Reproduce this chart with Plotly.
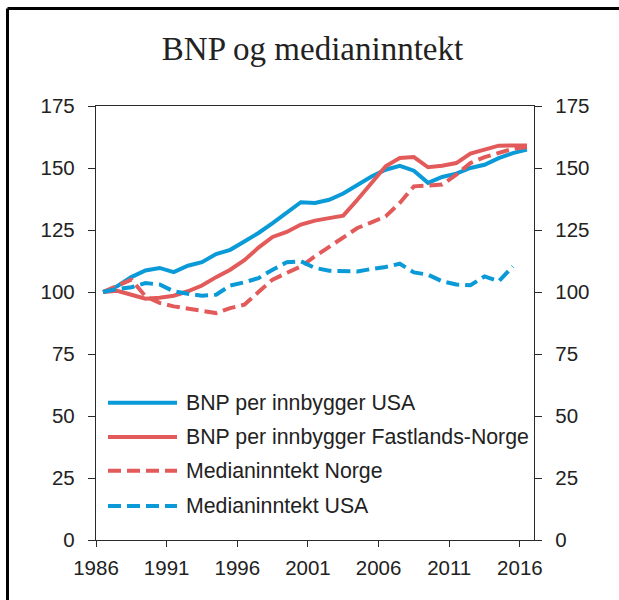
import plotly.graph_objects as go

years = list(range(1986, 2017))

bnp_usa = [100, 102.3, 106, 108.7, 109.7, 108, 110.6, 112, 115.3, 117, 120.4, 123.8,
           127.8, 131.9, 136.2, 135.9, 137.2, 139.7, 143.3, 146.6, 149.3, 150.9, 148.9,
           144, 146.4, 147.7, 150, 151.3, 154, 156, 157.4]

bnp_norge = [100, 100.5, 98.9, 97.3, 97.7, 98.5, 100.3, 102.6, 106, 109, 112.8, 117.9,
             122.2, 124.2, 127.2, 128.8, 129.8, 130.8, 137.2, 143.7, 150.7, 154, 154.4,
             150.3, 150.9, 152, 155.8, 157.4, 159, 159.1, 159.1]

median_norge = [100, 102.3, 105, 98.3, 95.6, 94.2, 93.3, 92.5, 91.5, 93.5, 94.9, 100,
                105, 107.7, 110.3, 114.4, 118.1, 122.2, 125.8, 128.1, 130.5, 135.9, 142.6,
                142.9, 143.3, 147.3, 152, 154.4, 156, 157.7, 158.5]

median_usa = [100, 101.2, 101.9, 103.6, 103, 100.3, 99.3, 98.5, 98.9, 102.6, 103.9, 105.6,
              109, 112, 112.4, 109.7, 108.6, 108.3, 108.3, 109.3, 110.1, 111.4, 107.9,
              107, 104.3, 103, 102.7, 106.3, 104.3, 110.3]

series_names = ["BNP per innbygger USA", "BNP per innbygger Fastlands-Norge",
                "Medianinntekt Norge", "Medianinntekt USA"]
series_values = [bnp_usa, bnp_norge, median_norge, median_usa]

x_ticks = [1986, 1991, 1996, 2001, 2006, 2011, 2016]
y_ticks = [0, 25, 50, 75, 100, 125, 150, 175]

BLUE = "#0a9ad8"
RED = "#e35a5a"
styles = [(BLUE, "solid"), (RED, "solid"), (RED, "13px,6px"), (BLUE, "13px,6px")]
y_axes = ["y", "y", "y", "y2"]  # last series on the (identical) right-hand axis

# points plotted at mid-year
fig = go.Figure()
for name, vals, (col, dash), ya in zip(series_names, series_values, styles, y_axes):
    xs = [y + 0.5 for y in years[:len(vals)]]
    fig.add_trace(go.Scatter(x=xs, y=vals, mode="lines", name=name, yaxis=ya,
                             line=dict(color=col, width=4, dash=dash),
                             showlegend=False))

AX = "#2a2a2a"
TICKFONT = dict(family="Liberation Sans, Arial, sans-serif", size=20.5, color="#222")

fig.update_layout(
    width=619, height=600,
    margin=dict(l=96, r=85, t=106, b=60),
    paper_bgcolor="white", plot_bgcolor="white",
    title=dict(text="BNP og medianinntekt", x=312.5 / 619, xref="container", xanchor="center",
               y=1 - 48 / 600, yref="container", yanchor="middle",
               font=dict(family="Liberation Serif, Times New Roman, serif", size=33, color="#222")),
    xaxis=dict(range=[1986, 2017], tickvals=x_ticks, ticks="outside", ticklen=6,
               tickcolor=AX, tickwidth=1.3, showline=True, linecolor=AX, linewidth=1.3,
               mirror=True, showgrid=False, zeroline=False, tickfont=TICKFONT,
               ticklabelstandoff=3),
    yaxis=dict(range=[0, 175], tickvals=y_ticks, ticks="outside", ticklen=7,
               tickcolor=AX, tickwidth=1.3, showline=True, linecolor=AX, linewidth=1.3,
               showgrid=False, zeroline=False, tickfont=TICKFONT, ticklabelstandoff=9),
    yaxis2=dict(range=[0, 175], tickvals=y_ticks, ticks="outside", ticklen=7,
                tickcolor=AX, tickwidth=1.3, showline=True, linecolor=AX, linewidth=1.3,
                showgrid=False, zeroline=False, tickfont=TICKFONT, ticklabelstandoff=9,
                overlaying="y", side="right", anchor="x"),
)

# frame border (left and top)
pw, ph = 619 - 96 - 85, 600 - 106 - 60
bx = (7.5 - 96) / pw
by = (540 - 8.5) / ph
fig.add_shape(type="line", xref="paper", yref="paper", x0=bx, x1=bx, y0=-0.2, y1=by,
              line=dict(color="black", width=3))
fig.add_shape(type="line", xref="paper", yref="paper", x0=bx, x1=1.3, y0=by, y1=by,
              line=dict(color="black", width=3))

# manual legend
leg_rows_px = [402.7, 437, 470.7, 506]
lx0, lx1, tx = (108 - 96) / pw, (177 - 96) / pw, (184 - 96) / pw
for name, (col, dash), ypx in zip(series_names, styles, leg_rows_px):
    yp = (540 - ypx) / ph
    fig.add_shape(type="line", xref="paper", yref="paper", x0=lx0, x1=lx1, y0=yp, y1=yp,
                  line=dict(color=col, width=4, dash=dash))
    fig.add_annotation(x=tx, y=yp, xref="paper", yref="paper", text=name, showarrow=False,
                       xanchor="left", yanchor="middle",
                       font=dict(family="Liberation Sans, Arial, sans-serif", size=21.3, color="#222"))

fig.write_html("out.html", config={"displayModeBar": False},
               post_script="document.body.style.margin='0';document.body.style.overflow='hidden';")
